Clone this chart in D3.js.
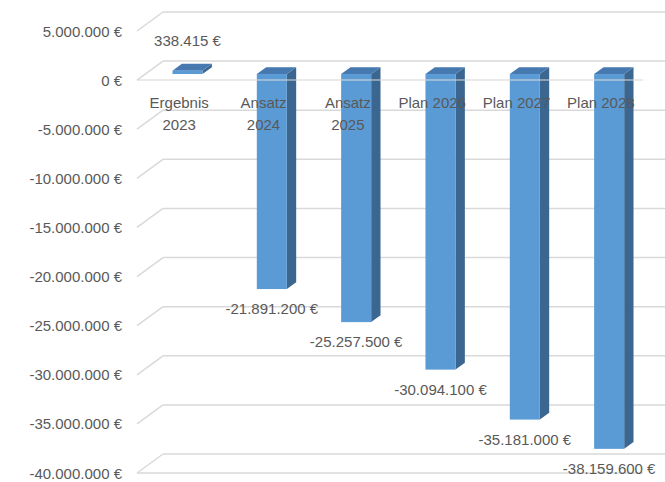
<!DOCTYPE html>
<html>
<head>
<meta charset="utf-8">
<script src="https://cdn.jsdelivr.net/npm/d3@7"></script>
<style>
  html, body { margin: 0; padding: 0; background: #fff; }
  svg { display: block; }
  text { font-family: "Liberation Sans", Arial, sans-serif; font-size: 15px; fill: #595959; }
</style>
</head>
<body>
<svg id="chart" width="665" height="482"></svg>
<script>
// ---- data ----
const categories = ["Ergebnis 2023", "Ansatz 2024", "Ansatz 2025", "Plan 2026", "Plan 2027", "Plan 2028"];
const categoryLines = [["Ergebnis", "2023"], ["Ansatz", "2024"], ["Ansatz", "2025"], ["Plan 2026"], ["Plan 2027"], ["Plan 2028"]];
const values = [338415, -21891200, -25257500, -30094100, -35181000, -38159600];
const yTicks = [5000000, 0, -5000000, -10000000, -15000000, -20000000, -25000000, -30000000, -35000000, -40000000];

// ---- layout ----
const svg = d3.select("#chart");
const DX = 26, DY = 19;            // full depth offset of the 3D box
const tFront = 0.32, tBack = 0.68;  // bar depth position within the box
const x = d3.scaleBand().domain(categories).range([137, 643]).paddingInner(0.644).paddingOuter(0.322);
const y = d3.scaleLinear().domain([-40000000, 5000000]).range([473, 31]);

const loc = d3.formatLocale({decimal: ",", thousands: ".", grouping: [3], currency: ["", " €"], minus: "-"});
const fmt = v => loc.format(",.0f")(v) + " €";

const grid = "#d9d9d9";
// back wall gridlines + left diagonals
yTicks.forEach(v => {
  const yf = y(v);
  svg.append("line").attr("x1", 137 + DX).attr("x2", 700).attr("y1", yf - DY).attr("y2", yf - DY)
    .attr("stroke", grid).attr("stroke-width", 1.5);
  svg.append("line").attr("x1", 137).attr("y1", yf).attr("x2", 137 + DX).attr("y2", yf - DY)
    .attr("stroke", grid).attr("stroke-width", 1.5);
  svg.append("text").attr("x", 122).attr("y", yf).attr("text-anchor", "end")
    .attr("dominant-baseline", "central").text(fmt(v));
});
// floor front edge at minimum
svg.append("line").attr("x1", 137).attr("x2", 643).attr("y1", y(-40000000)).attr("y2", y(-40000000))
  .attr("stroke", grid).attr("stroke-width", 1.5);

// bars
const bdx = DX * (tBack - tFront), bdy = DY * (tBack - tFront);
const shX = DX * tFront, shY = DY * tFront;
values.forEach((v, i) => {
  const xl = x(categories[i]) + shX, xr = xl + x.bandwidth();
  const yTop = y(Math.max(v, 0)) - shY, yBot = y(Math.min(v, 0)) - shY;
  const g = svg.append("g");
  g.append("polygon").attr("fill", "#3B6690")
    .attr("points", [[xr, yTop], [xr + bdx, yTop - bdy], [xr + bdx, yBot - bdy], [xr, yBot]].join(" "));
  g.append("polygon").attr("fill", "#4679B0")
    .attr("points", [[xl, yTop], [xl + bdx, yTop - bdy], [xr + bdx, yTop - bdy], [xr, yTop]].join(" "));
  g.append("rect").attr("x", xl).attr("y", yTop).attr("width", xr - xl).attr("height", Math.max(yBot - yTop, 0))
    .attr("fill", "#5B9BD5");
  const cx = (xl + xr) / 2;
  const ly = v >= 0 ? yTop - 30 : yBot + 19.5;
  svg.append("text").attr("x", cx).attr("y", ly).attr("text-anchor", "middle")
    .attr("dominant-baseline", "central").text(fmt(v));
});

// floor front edge at zero (drawn over bars)
svg.append("line").attr("x1", 137).attr("x2", 643).attr("y1", y(0)).attr("y2", y(0))
  .attr("stroke", grid).attr("stroke-width", 1.5).attr("opacity", 0.7);

// category labels
categoryLines.forEach((lines, i) => {
  const cx = x(categories[i]) + x.bandwidth() / 2;
  const t = svg.append("text").attr("text-anchor", "middle");
  lines.forEach((s, j) => {
    t.append("tspan").attr("x", cx).attr("y", 102 + j * 22).attr("dominant-baseline", "central").text(s);
  });
});
</script>
</body>
</html>
